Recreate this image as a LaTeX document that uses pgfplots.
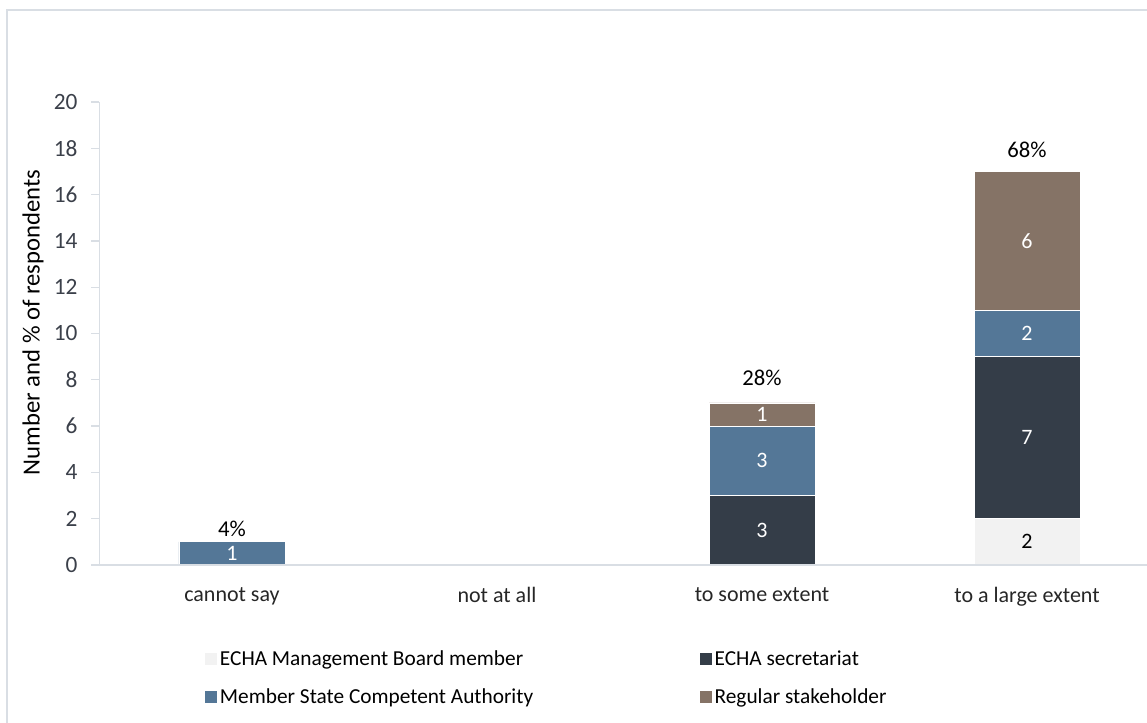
\documentclass[border=0pt]{standalone}
\usepackage{fontspec}
\setmainfont{Carlito}
\usepackage{pgfplots}
\pgfplotsset{compat=1.18}
\definecolor{cMB}{RGB}{242,242,242}
\definecolor{cSec}{RGB}{52,61,72}
\definecolor{cMS}{RGB}{84,119,151}
\definecolor{cReg}{RGB}{133,115,102}
\definecolor{axgray}{RGB}{217,222,228}
\definecolor{ticktext}{RGB}{59,64,74}
\pgfplotsset{seglabel/.style={
  visualization depends on={rawy \as \rawy},
  nodes near coords={\ifdim\rawy pt>0pt\pgfmathprintnumber{\rawy}\fi},
  nodes near coords style={anchor=center, text=#1, font=\fontsize{16.5}{19}\selectfont},
},
pctlabel/.style={draw=none, mark=none, point meta=explicit symbolic,
  nodes near coords={\pgfplotspointmeta},
  nodes near coords style={anchor=center, text=black, yshift=#1, font=\fontsize{17}{20}\selectfont}},
commonax/.style={at={(0,0)}, anchor=south west,
  scale only axis, width=795pt, height=347.25pt,
  xmin=-0.5, xmax=3.5, ymin=0, ymax=20}
}
\begin{document}
\begin{tikzpicture}
\useasboundingbox (-74.625pt,-117.75pt) rectangle (785.625pt,423.75pt);
\clip (-74.625pt,-117.75pt) rectangle (785.625pt,423.75pt);
\draw[axgray, line width=1.2pt] (-69.375pt,-130pt) |- (800pt,416.25pt);
\begin{axis}[
  commonax,
  ytick={0,2,...,20},
  xtick={0,1,2,3},
  xticklabels={cannot say, not at all, to some extent, to a large extent},
  axis x line*=bottom, axis y line*=left,
  axis line style={axgray, line width=1pt},
  ytick pos=left, tick align=outside, major tick length=6pt,
  ytick style={axgray, line width=1pt},
  xtick style={draw=none},
  axis on top,
  ybar stacked, bar width=79.5pt,
  /pgf/number format/assume math mode=true,
  yticklabel style={font=\fontsize{17.5}{20}\selectfont, text=ticktext, xshift=-7pt},
  xticklabel style={font=\fontsize{16.5}{19}\selectfont, text=black!85, yshift=-7.5pt},
  ylabel={Number and \% of respondents},
  every axis y label/.style={at={(axis description cs:0,0.5238)}, xshift=-49.875pt, rotate=90, anchor=center, font=\fontsize{18.5}{22}\selectfont},
  legend columns=2,
  legend cell align=left,
  legend style={draw=none, fill=none, at={(0.0958,-0.244)}, anchor=west, font=\fontsize{16}{19}\selectfont, row sep=12pt},
  legend image code/.code={\fill[#1,draw=none] (0pt,-4.5pt) rectangle (9pt,4.5pt);},
]
\addplot[fill=cMB, draw=white, line width=0.6pt, seglabel=black] coordinates {(0,0) (1,0) (2,0) (3,2)};
\addlegendentry{\makebox[358pt][l]{ECHA Management Board member}}
\addplot[fill=cSec, draw=white, line width=0.6pt, seglabel=white] coordinates {(0,0) (1,0) (2,3) (3,7)};
\addlegendentry{ECHA secretariat}
\addplot[fill=cMS, draw=white, line width=0.6pt, seglabel=white] coordinates {(0,1) (1,0) (2,3) (3,2)};
\addlegendentry{\makebox[358pt][l]{Member State Competent Authority}}
\addplot[fill=cReg, draw=white, line width=0.6pt, seglabel=white] coordinates {(0,0) (1,0) (2,1) (3,6)};
\addlegendentry{Regular stakeholder}
\end{axis}
\begin{axis}[commonax, hide axis]
\addplot[pctlabel=9.75pt] coordinates {(0,1) [4\%]};
\addplot[pctlabel=18.75pt] coordinates {(2,7) [28\%]};
\addplot[pctlabel=16.5pt] coordinates {(3,17) [68\%]};
\end{axis}
\end{tikzpicture}
\end{document}
